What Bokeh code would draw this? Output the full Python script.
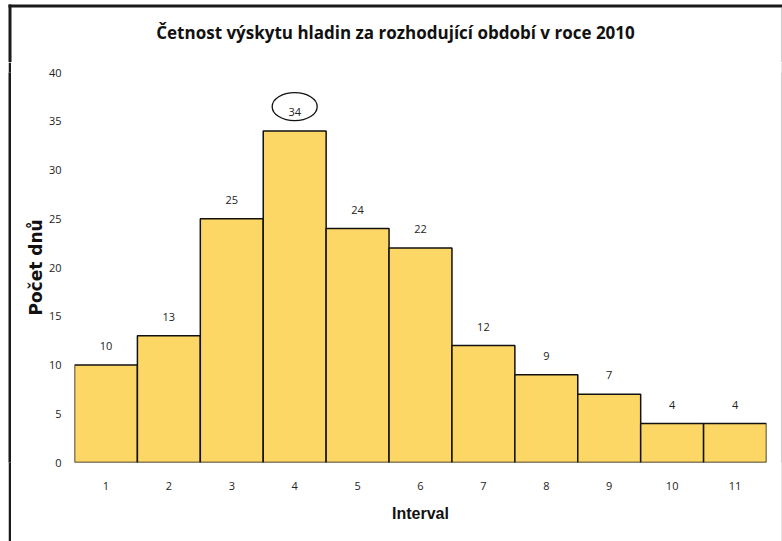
from bokeh.plotting import figure
from bokeh.layouts import row, column
from bokeh.models import ColumnDataSource, Range1d, FixedTicker, Spacer
from bokeh.core.properties import value
from bokeh.embed import file_html
from bokeh.resources import INLINE

# Frequency of water levels per interval (days), 2010
intervals = [1, 2, 3, 4, 5, 6, 7, 8, 9, 10, 11]
days = [10, 13, 25, 34, 24, 22, 12, 9, 7, 4, 4]
y_ticks = [0, 5, 10, 15, 20, 25, 30, 35, 40]
highlight_index = 3  # the peak bar gets its label circled

title_text = "Četnost výskytu hladin za rozhodující období v roce 2010"
x_label = "Interval"
y_label = "Počet dnů"

RULE = "#1a1a1a"
RULE_LIGHT = "#9a9a9a"

HEAD_W, HEAD_H = 774, 58   # header strip, pixel-unit coordinates
BODY_H = 479
BLEED = 3                  # let the strips run past the header edges


def rule(width, height, color):
    """A solid vertical strip used for the page frame."""
    f = figure(width=width, height=height, min_border=0,
               x_axis_type=None, y_axis_type=None,
               output_backend="svg", toolbar_location=None)
    f.background_fill_color = color
    f.border_fill_color = color
    f.outline_line_color = None
    f.grid.visible = False
    return f


# Header strip: frame rules and the chart title, drawn in pixel coordinates
head = figure(width=HEAD_W, height=HEAD_H, min_border=0,
              x_range=Range1d(0, HEAD_W), y_range=Range1d(0, HEAD_H),
              x_axis_type=None, y_axis_type=None,
              output_backend="svg", toolbar_location=None)
head.outline_line_color = None
head.grid.visible = False
head.background_fill_color = "white"
head.border_fill_color = "white"
head.quad(left=[-BLEED], right=[HEAD_W + BLEED], top=[HEAD_H + BLEED], bottom=[HEAD_H - 3],
          fill_color=RULE, line_color=None)
head.quad(left=[-BLEED], right=[3], top=[HEAD_H + BLEED], bottom=[-BLEED],
          fill_color=RULE, line_color=None)
head.quad(left=[HEAD_W - 1], right=[HEAD_W + BLEED], top=[HEAD_H - 3], bottom=[-BLEED],
          fill_color=RULE_LIGHT, line_color=None)
head.text(x=[387], y=[HEAD_H - 28], text=[title_text],
          text_align="center", text_baseline="middle",
          text_font=value("Open Sans"), text_font_size="17px",
          text_font_style="bold", text_color="#111111")

# Main chart
src = ColumnDataSource(data=dict(
    x=intervals,
    top=days,
    label=[str(d) for d in days],
))

p = figure(
    width=770, height=BODY_H,
    output_backend="svg", toolbar_location=None,
    x_range=Range1d(0.5, 11.5), y_range=Range1d(0, 40),
    min_border_left=63, min_border_right=15,
    min_border_top=10, min_border_bottom=79,
)
p.outline_line_color = None
p.grid.grid_line_color = None
p.background_fill_color = "white"
p.border_fill_color = "white"

p.vbar(x="x", top="top", width=1.0, bottom=0, source=src,
       fill_color="#FDD765", line_color="#111111", line_width=1.5)

p.text(x="x", y="top", text="label", source=src,
       text_align="center", text_baseline="middle", y_offset=-19,
       text_font=value("Open Sans"), text_font_size="11px", text_color="#222222")

# Ellipse around the peak value label
circled_pad = 2.5
p.ellipse(x=[intervals[highlight_index]], y=[days[highlight_index] + circled_pad],
          width=45, height=28, width_units="screen", height_units="screen",
          fill_color=None, line_color="#111111", line_width=1.3)

p.xaxis.ticker = FixedTicker(ticks=intervals)
p.yaxis.ticker = FixedTicker(ticks=y_ticks)
for ax in (p.xaxis, p.yaxis):
    ax.axis_line_color = None
    ax.major_tick_line_color = None
    ax.minor_tick_line_color = None
    ax.major_label_text_font = "Open Sans"
    ax.major_label_text_font_size = "11px"
    ax.major_label_text_color = "#222222"
    ax.axis_label_text_font_style = "bold"
    ax.axis_label_text_color = "#111111"

p.xaxis.axis_label_text_font = "Liberation Sans"
p.yaxis.axis_label_text_font = "DejaVu Sans"
p.xaxis.major_label_standoff = 13
p.yaxis.major_label_standoff = 7
p.xaxis.axis_label = x_label
p.yaxis.axis_label = y_label
p.xaxis.axis_label_text_font_size = "16px"
p.yaxis.axis_label_text_font_size = "17px"
p.xaxis.axis_label_standoff = 12
p.yaxis.axis_label_standoff = 0

page = column(
    Spacer(width=782, height=4),
    row(Spacer(width=8, height=HEAD_H), head),
    row(
        Spacer(width=8, height=BODY_H),
        rule(3, BODY_H, RULE),
        p,
        rule(1, BODY_H, RULE_LIGHT),
    ),
)

open("out.html", "w").write(file_html(page, INLINE))
